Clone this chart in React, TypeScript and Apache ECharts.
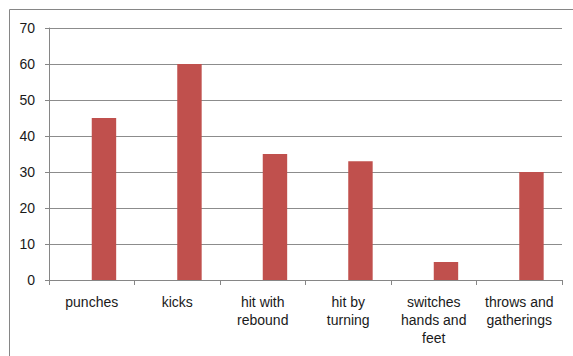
import React, { useEffect, useRef } from "react";
import * as echarts from "echarts";

const categories = [
  "punches",
  "kicks",
  "hit with\nrebound",
  "hit by\nturning",
  "switches\nhands and\nfeet",
  "throws and\ngatherings",
];
const values = [45, 60, 35, 33, 5, 30];
const placeholder = [null, null, null, null, null, null];
const yTicks = { min: 0, max: 70, interval: 10 };

export default function App() {
  const ref = useRef<HTMLDivElement>(null);
  useEffect(() => {
    if (!ref.current) return;
    const chart = echarts.init(ref.current, undefined, { renderer: "svg" });
    const font = "Liberation Sans";
    chart.setOption({
      animation: false,
      backgroundColor: "#ffffff",
      graphic: [
        {
          type: "rect",
          shape: { x: 9.5, y: 9.5, width: 700, height: 500 },
          style: { fill: "none", stroke: "#868686", lineWidth: 1 },
          silent: true,
        },
      ],
      grid: { left: 49, top: 28, right: 11, bottom: 76 },
      xAxis: {
        type: "category",
        data: categories,
        axisLine: { show: true, lineStyle: { color: "#868686", width: 1 } },
        axisTick: { show: true, alignWithLabel: false, length: 5, lineStyle: { color: "#868686" } },
        axisLabel: {
          interval: 0,
          color: "#1a1a1a",
          fontFamily: font,
          fontSize: 14,
          lineHeight: 18,
          margin: 13,
        },
        splitLine: { show: false },
      },
      yAxis: {
        type: "value",
        min: yTicks.min,
        max: yTicks.max,
        interval: yTicks.interval,
        axisLine: { show: true, lineStyle: { color: "#868686", width: 1 } },
        axisTick: { show: true, length: 4, lineStyle: { color: "#868686" } },
        axisLabel: { color: "#1a1a1a", fontFamily: font, fontSize: 14, margin: 14 },
        splitLine: { show: true, lineStyle: { color: "#8c8c8c", width: 1 } },
      },
      series: [
        {
          type: "bar",
          data: placeholder,
          barWidth: "28.57%",
          barGap: "0%",
          itemStyle: { color: "#4F81BD" },
        },
        {
          type: "bar",
          data: values,
          barWidth: "28.57%",
          barGap: "0%",
          itemStyle: { color: "#C0504D" },
        },
      ],
    });
    return () => chart.dispose();
  }, []);
  return (
    <div
      ref={ref}
      style={{ position: "fixed", left: 0, top: 0, width: 573, height: 356 }}
    />
  );
}
